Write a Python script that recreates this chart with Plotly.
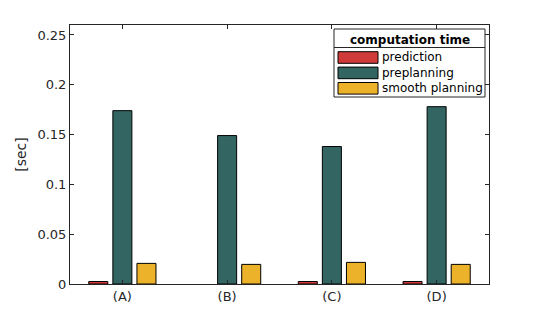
import plotly.graph_objects as go

categories = ["(A)", "(B)", "(C)", "(D)"]
series_names = ["prediction", "preplanning", "smooth planning"]
prediction = [0.0025, 0.0, 0.0025, 0.0025]
preplanning = [0.174, 0.149, 0.138, 0.178]
smooth_planning = [0.0207, 0.0197, 0.0217, 0.0197]
colors = ["#D03A38", "#336663", "#ECB32A"]
y_ticks = [0, 0.05, 0.1, 0.15, 0.2, 0.25]
y_tick_labels = ["0", "0.05", "0.1", "0.15", "0.2", "0.25"]
legend_title = "computation time"

W, H = 540, 319
L, R, T, B = 70, 51, 25, 35
PW, PH = W - L - R, H - T - B


def px(x):
    return (x - L) / PW


def py(y):
    return (H - B - y) / PH


font = "DejaVu Sans, sans-serif"
fig = go.Figure()
for name, vals, col in zip(series_names, [prediction, preplanning, smooth_planning], colors):
    fig.add_trace(go.Bar(
        x=categories, y=vals, name=name, showlegend=False,
        marker=dict(color=col, line=dict(color="black",
                                         width=[1 if v > 0 else 0 for v in vals]))))

shapes = []
annotations = []
# legend box
shapes.append(dict(type="rect", xref="paper", yref="paper",
                   x0=px(334), x1=px(485), y0=py(97), y1=py(29),
                   fillcolor="white", line=dict(color="#262626", width=1), layer="above"))
shapes.append(dict(type="line", xref="paper", yref="paper",
                   x0=px(334), x1=px(485), y0=py(47.5), y1=py(47.5),
                   line=dict(color="#262626", width=1), layer="above"))
annotations.append(dict(xref="paper", yref="paper", x=px(409.5), y=py(39.5),
                        text="<b>" + legend_title + "</b>", showarrow=False,
                        xanchor="center", yanchor="middle",
                        font=dict(family=font, size=12, color="black")))
for i, (name, col) in enumerate(zip(series_names, colors)):
    yc = 57.5 + i * 15.4
    shapes.append(dict(type="rect", xref="paper", yref="paper",
                       x0=px(338), x1=px(378), y0=py(yc + 5.8), y1=py(yc - 5.8),
                       fillcolor=col, line=dict(color="black", width=1), layer="above"))
    annotations.append(dict(xref="paper", yref="paper", x=px(380), y=py(yc),
                            text=name, showarrow=False, xanchor="left", yanchor="middle",
                            font=dict(family=font, size=12, color="black")))

fig.update_layout(
    width=W, height=H,
    margin=dict(l=L, r=R, t=T, b=B),
    paper_bgcolor="white", plot_bgcolor="white",
    barmode="group", bargap=0.31, bargroupgap=0.21,
    font=dict(family=font, size=13, color="#262626"),
    showlegend=False,
    shapes=shapes, annotations=annotations,
    xaxis=dict(
        showline=True, linecolor="#262626", linewidth=1, mirror="ticks",
        ticks="inside", ticklen=4, tickcolor="#262626",
        tickfont=dict(size=13, color="#262626"),
        range=[-0.5, 3.5],
    ),
    yaxis=dict(
        range=[0, 0.26], tickvals=y_ticks, ticktext=y_tick_labels,
        showline=True, linecolor="#262626", linewidth=1, mirror="ticks",
        ticks="inside", ticklen=4, tickcolor="#262626",
        tickfont=dict(size=13, color="#262626"),
        showgrid=False, zeroline=False,
        title=dict(text="[sec]", font=dict(size=14, color="#262626"), standoff=7),
    ),
)
fig.write_html("out.html", config={"displayModeBar": False},
               post_script="document.body.style.margin='0';")
